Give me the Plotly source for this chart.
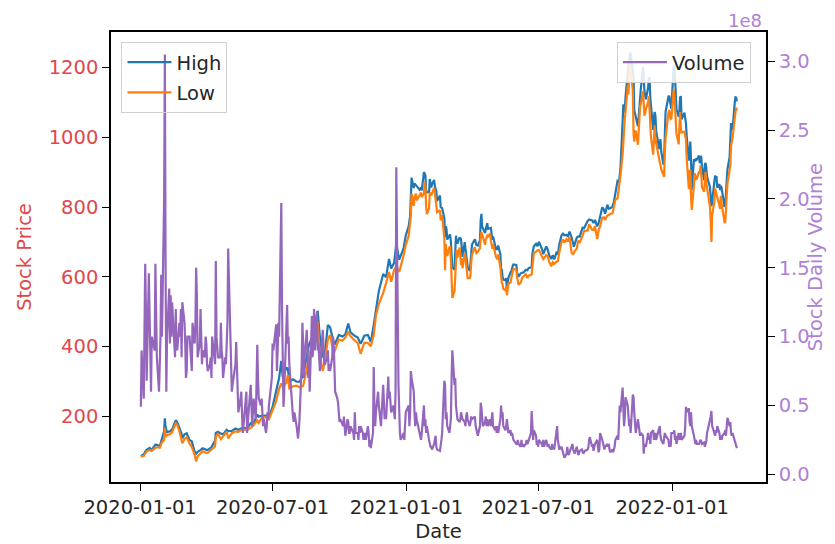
import plotly.graph_objects as go

# ---------------- data ----------------
price_dates = [
"2020-01-02","2020-01-06","2020-01-08","2020-01-10","2020-01-14","2020-01-17","2020-01-22","2020-01-24","2020-01-28","2020-01-30",
"2020-01-31","2020-02-03","2020-02-04","2020-02-05","2020-02-07","2020-02-11","2020-02-14","2020-02-19","2020-02-21","2020-02-24",
"2020-02-27","2020-02-28","2020-03-02","2020-03-05","2020-03-09","2020-03-12","2020-03-16","2020-03-18","2020-03-20","2020-03-24",
"2020-03-27","2020-04-01","2020-04-03","2020-04-08","2020-04-13","2020-04-14","2020-04-17","2020-04-21","2020-04-24","2020-04-29",
"2020-05-01","2020-05-06","2020-05-11","2020-05-15","2020-05-20","2020-05-27","2020-06-01","2020-06-05","2020-06-10","2020-06-12",
"2020-06-17","2020-06-23","2020-06-26","2020-07-01","2020-07-06","2020-07-10","2020-07-13","2020-07-15","2020-07-20","2020-07-22",
"2020-07-24","2020-07-29","2020-08-03","2020-08-07","2020-08-12","2020-08-17","2020-08-20","2020-08-24","2020-08-28","2020-08-31",
"2020-09-01","2020-09-04","2020-09-08","2020-09-11","2020-09-15","2020-09-18","2020-09-23","2020-09-25","2020-09-30","2020-10-05",
"2020-10-09","2020-10-13","2020-10-16","2020-10-21","2020-10-26","2020-10-30","2020-11-04","2020-11-09","2020-11-13","2020-11-17",
"2020-11-20","2020-11-24","2020-11-30","2020-12-04","2020-12-08","2020-12-11","2020-12-15","2020-12-18","2020-12-22","2020-12-28",
"2020-12-31",
"2021-01-04","2021-01-06","2021-01-07","2021-01-08","2021-01-11","2021-01-12","2021-01-14","2021-01-15","2021-01-19","2021-01-21",
"2021-01-22","2021-01-25","2021-01-26","2021-01-27","2021-01-28","2021-01-29","2021-02-01","2021-02-02","2021-02-04","2021-02-05",
"2021-02-08","2021-02-09","2021-02-11","2021-02-12","2021-02-16","2021-02-17","2021-02-19","2021-02-22","2021-02-23","2021-02-24",
"2021-02-25","2021-02-26","2021-03-01","2021-03-02","2021-03-03","2021-03-04","2021-03-05","2021-03-08","2021-03-09","2021-03-10",
"2021-03-11","2021-03-12","2021-03-15","2021-03-17","2021-03-18","2021-03-19","2021-03-22","2021-03-23","2021-03-24","2021-03-25",
"2021-03-26","2021-03-29","2021-03-30","2021-03-31","2021-04-01","2021-04-05","2021-04-07","2021-04-09","2021-04-12","2021-04-13",
"2021-04-14","2021-04-15","2021-04-19","2021-04-20","2021-04-22","2021-04-23","2021-04-26","2021-04-27","2021-04-29","2021-04-30",
"2021-05-04","2021-05-06","2021-05-07","2021-05-10","2021-05-11","2021-05-12","2021-05-13","2021-05-14","2021-05-17","2021-05-18",
"2021-05-19","2021-05-20","2021-05-21","2021-05-24","2021-05-25","2021-05-27","2021-05-28","2021-06-01","2021-06-02","2021-06-04",
"2021-06-07","2021-06-09","2021-06-11","2021-06-14","2021-06-16","2021-06-18","2021-06-21","2021-06-22","2021-06-23","2021-06-25",
"2021-06-28","2021-06-30","2021-07-02","2021-07-06","2021-07-08","2021-07-12","2021-07-14","2021-07-16","2021-07-19","2021-07-21",
"2021-07-23","2021-07-26","2021-07-28","2021-07-30","2021-08-02","2021-08-04","2021-08-06","2021-08-09","2021-08-11","2021-08-13",
"2021-08-16","2021-08-18","2021-08-19","2021-08-20","2021-08-23","2021-08-25","2021-08-27","2021-08-31","2021-09-02","2021-09-07",
"2021-09-09","2021-09-13","2021-09-15","2021-09-17","2021-09-20","2021-09-22","2021-09-24","2021-09-27","2021-09-29","2021-10-01",
"2021-10-04","2021-10-06","2021-10-08","2021-10-11","2021-10-13","2021-10-15","2021-10-18","2021-10-20","2021-10-21","2021-10-22",
"2021-10-25","2021-10-26","2021-10-27","2021-10-28","2021-10-29","2021-11-01","2021-11-02","2021-11-03","2021-11-04","2021-11-05",
"2021-11-08","2021-11-09","2021-11-10","2021-11-11","2021-11-12","2021-11-15","2021-11-16","2021-11-17","2021-11-18","2021-11-19",
"2021-11-22","2021-11-23","2021-11-24","2021-11-26","2021-11-29","2021-11-30","2021-12-01","2021-12-02","2021-12-03","2021-12-06",
"2021-12-07","2021-12-08","2021-12-09","2021-12-10","2021-12-13","2021-12-14","2021-12-15","2021-12-16","2021-12-17","2021-12-20",
"2021-12-21","2021-12-22","2021-12-23","2021-12-27","2021-12-28","2021-12-29","2021-12-30","2021-12-31",
"2022-01-03","2022-01-04","2022-01-05","2022-01-06","2022-01-07","2022-01-10","2022-01-11","2022-01-12","2022-01-13","2022-01-14",
"2022-01-18","2022-01-19","2022-01-20","2022-01-21","2022-01-24","2022-01-25","2022-01-26","2022-01-27","2022-01-28","2022-01-31",
"2022-02-01","2022-02-02","2022-02-03","2022-02-04","2022-02-07","2022-02-08","2022-02-09","2022-02-10","2022-02-11","2022-02-14",
"2022-02-15","2022-02-16","2022-02-17","2022-02-18","2022-02-22","2022-02-23","2022-02-24","2022-02-25","2022-02-28","2022-03-01",
"2022-03-02","2022-03-03","2022-03-04","2022-03-07","2022-03-08","2022-03-09","2022-03-10","2022-03-11","2022-03-14","2022-03-15",
"2022-03-16","2022-03-17","2022-03-18","2022-03-21","2022-03-22","2022-03-23","2022-03-24","2022-03-25","2022-03-28","2022-03-29",
"2022-03-30","2022-03-31",
]

high = [
86.1,90.3,98.6,104.0,109.0,103.6,118.5,118.0,114.0,130.5,
130.6,157.2,193.8,169.2,154.4,156.7,162.6,189.0,182.9,168.5,
150.0,137.0,148.0,151.0,131.2,128.4,98.1,92.5,98.0,102.7,
108.0,103.7,103.5,111.0,130.4,151.9,155.6,150.0,148.5,161.0,
157.5,157.7,164.8,161.0,166.0,166.0,180.0,180.0,205.0,199.0,
202.0,202.0,198.5,227.0,275.0,309.8,359.0,313.0,338.0,337.0,
300.0,306.0,299.0,299.0,317.0,372.0,405.0,425.0,463.0,500.1,
502.5,428.0,368.7,382.5,461.9,455.0,412.1,408.7,433.0,428.5,
435.0,465.9,441.0,432.0,425.8,407.6,431.0,433.0,412.5,462.0,
502.5,559.0,607.8,599.0,651.3,624.0,640.0,695.0,649.0,681.4,
718.7,
744.5,774.0,816.0,884.5,854.4,868.0,863.0,859.9,850.0,855.7,
848.0,900.4,895.9,891.5,848.0,842.4,842.0,880.5,856.5,864.8,
877.8,859.8,845.6,817.3,833.0,799.8,796.8,768.5,713.6,745.0,
737.2,706.7,719.0,721.1,700.7,668.0,627.8,620.1,678.1,717.9,
702.5,694.9,713.2,707.9,680.1,657.2,699.6,681.0,667.8,645.6,
629.1,616.5,637.7,672.0,692.4,707.9,691.4,689.6,704.8,763.0,
780.8,743.7,725.4,737.3,753.8,737.4,740.6,740.2,706.0,715.5,
679.0,680.3,690.0,665.0,622.0,620.4,601.0,592.0,589.7,596.3,
566.2,590.0,596.5,613.0,614.5,631.1,635.6,633.8,611.7,600.8,
610.0,611.8,612.6,620.0,618.8,625.6,626.4,627.3,666.0,687.5,
694.5,688.0,700.0,681.1,664.8,687.2,678.6,662.2,651.0,662.2,
649.9,669.0,664.7,692.8,718.8,723.8,719.0,719.9,716.3,729.9,
712.8,694.9,686.2,692.1,712.1,715.8,715.2,741.0,739.4,760.2,
764.5,762.0,754.4,763.2,744.9,753.7,774.8,799.4,793.5,781.1,
806.9,795.5,796.4,801.2,815.4,843.2,875.0,871.8,900.0,910.0,
1045.0,1094.9,1070.9,1081.3,1115.2,1208.6,1208.6,1215.4,1243.5,1239.9,
1197.0,1174.8,1078.1,1070.2,1054.5,1031.7,1057.2,1089.0,1112.0,1138.7,
1201.9,1141.0,1132.8,1108.8,1142.7,1168.0,1172.8,1113.0,1090.6,1021.6,
1057.7,1072.4,1063.0,1020.0,981.9,966.4,978.8,994.7,960.7,921.7,
939.5,1015.7,1072.9,1117.0,1119.0,1104.0,1095.6,1082.0,
1201.1,1208.0,1170.3,1088.0,1080.9,1059.1,1075.9,1114.8,1115.6,1052.0,
1070.8,1054.7,1041.7,1004.6,933.5,951.3,987.7,935.4,850.0,937.2,
935.4,931.5,937.0,936.5,947.8,926.3,946.3,943.8,915.9,876.9,
923.0,926.4,912.0,886.9,856.7,835.3,802.5,815.5,876.9,889.9,
886.5,886.4,855.6,866.0,849.0,860.6,854.5,843.8,800.7,805.6,
842.0,875.0,907.8,942.9,997.9,1040.7,1024.5,1021.8,1097.9,1114.8,
1113.9,1103.1,
]

low = [
84.3,85.8,93.0,98.9,103.4,100.5,109.5,111.0,109.5,118.0,
125.0,131.7,166.8,140.8,146.0,148.0,154.6,180.0,175.5,157.0,
131.7,122.3,135.0,140.0,121.2,111.8,88.4,70.1,85.0,94.1,
99.5,94.7,95.5,104.0,114.0,141.0,149.0,134.7,142.5,155.6,
136.7,151.4,156.8,155.3,162.0,161.0,167.0,174.0,188.0,181.0,
197.5,197.0,191.0,216.0,244.0,279.0,294.2,285.0,296.0,318.0,
280.0,286.0,288.0,283.0,287.0,335.0,372.0,401.0,437.0,440.1,
470.5,372.0,329.9,360.5,420.0,433.0,380.0,391.3,420.0,416.6,
426.0,443.5,430.0,419.0,410.0,379.1,411.0,410.0,401.0,433.0,
489.0,522.0,554.0,582.0,614.0,586.0,620.0,628.5,614.0,660.8,
691.1,
717.2,749.0,775.2,838.8,803.6,827.3,838.8,819.1,833.0,841.4,
828.6,838.8,871.6,858.7,801.0,780.1,795.6,842.2,833.4,838.8,
854.8,841.8,804.7,785.3,791.0,762.0,777.4,710.2,619.0,694.2,
670.6,659.5,685.2,685.0,651.1,600.0,539.5,558.8,595.2,655.1,
677.2,655.5,684.0,633.8,653.0,624.6,668.8,656.0,630.1,609.5,
596.0,596.0,605.0,641.1,664.0,684.7,667.8,671.7,682.1,710.6,
728.0,721.3,691.8,707.1,718.0,715.5,724.6,703.6,680.5,694.2,
657.0,650.0,664.1,627.6,587.5,582.0,579.0,565.5,561.2,573.0,
547.0,562.3,580.0,583.8,600.0,616.0,622.5,620.6,599.2,577.2,
582.9,597.6,601.5,607.0,596.8,603.8,605.2,607.0,628.1,668.0,
672.0,675.9,676.8,656.0,650.7,662.2,659.0,643.4,630.2,642.0,
637.5,643.2,645.0,670.3,699.0,707.4,697.9,707.6,701.9,714.3,
668.2,665.3,667.6,673.7,680.8,703.6,697.6,718.0,730.6,733.0,
751.1,734.9,734.0,745.3,708.9,734.2,744.6,769.3,770.7,763.6,
776.1,776.9,780.8,781.5,805.1,820.7,825.1,851.3,869.9,890.3,
950.5,1001.4,1030.8,1054.2,1073.2,1146.0,1123.0,1174.5,1217.0,1201.0,
1133.0,1011.5,987.3,1016.8,1019.2,978.6,1002.2,1050.0,1089.0,1096.1,
1132.4,1062.0,1062.0,1081.0,1100.2,1118.0,1087.0,1056.6,1000.2,950.5,
1026.8,1033.6,1001.2,982.5,951.5,930.0,928.3,921.9,909.0,893.4,
886.1,957.1,997.6,1070.7,1078.4,1064.1,1053.2,1054.6,
1136.0,1123.0,1081.0,1020.5,1010.0,980.0,1038.8,1072.6,1026.5,1013.4,
1016.1,995.0,994.0,940.5,851.5,903.2,906.0,829.0,792.0,862.8,
897.5,889.4,880.5,881.2,902.7,894.8,920.0,896.7,856.7,844.3,
893.4,901.2,868.8,853.2,801.0,760.6,700.0,776.5,814.7,853.8,
844.3,832.6,825.2,804.0,795.0,832.0,810.4,793.8,756.0,756.6,
802.3,825.7,867.4,907.1,921.8,976.4,988.8,997.3,1053.6,1073.1,
1086.0,1076.6,
]

vol_dates = [
"2020-01-02","2020-01-03","2020-01-06","2020-01-07","2020-01-08","2020-01-09","2020-01-10","2020-01-13","2020-01-14","2020-01-16",
"2020-01-17","2020-01-21","2020-01-22","2020-01-24","2020-01-27","2020-01-29","2020-01-30","2020-01-31","2020-02-03","2020-02-04",
"2020-02-05","2020-02-06","2020-02-07","2020-02-10","2020-02-11","2020-02-12","2020-02-13","2020-02-14","2020-02-18","2020-02-19",
"2020-02-20","2020-02-21","2020-02-24","2020-02-25","2020-02-26","2020-02-27","2020-02-28","2020-03-02","2020-03-03","2020-03-04",
"2020-03-05","2020-03-06","2020-03-09","2020-03-10","2020-03-11","2020-03-12","2020-03-13","2020-03-16","2020-03-17","2020-03-18",
"2020-03-19","2020-03-20","2020-03-23","2020-03-24","2020-03-25","2020-03-26","2020-03-27","2020-03-30","2020-03-31","2020-04-01",
"2020-04-02","2020-04-03","2020-04-06","2020-04-07","2020-04-08","2020-04-09","2020-04-13","2020-04-14","2020-04-15","2020-04-16",
"2020-04-17","2020-04-20","2020-04-21","2020-04-22","2020-04-23","2020-04-24","2020-04-27","2020-04-28","2020-04-29","2020-04-30",
"2020-05-01","2020-05-04","2020-05-05","2020-05-06","2020-05-07","2020-05-08","2020-05-11","2020-05-12","2020-05-13","2020-05-14",
"2020-05-15","2020-05-18","2020-05-19","2020-05-20","2020-05-21","2020-05-22","2020-05-26","2020-05-27","2020-05-28","2020-05-29",
"2020-06-01","2020-06-02","2020-06-03","2020-06-04","2020-06-05","2020-06-08","2020-06-09","2020-06-10","2020-06-11","2020-06-12",
"2020-06-15","2020-06-16","2020-06-17","2020-06-18","2020-06-19","2020-06-22","2020-06-23","2020-06-24","2020-06-25","2020-06-26",
"2020-06-29","2020-06-30","2020-07-01","2020-07-02","2020-07-06","2020-07-07","2020-07-08","2020-07-09","2020-07-10","2020-07-13",
"2020-07-14","2020-07-15","2020-07-16","2020-07-17","2020-07-20","2020-07-21","2020-07-22","2020-07-23","2020-07-24","2020-07-27",
"2020-07-28","2020-07-29","2020-07-30","2020-07-31","2020-08-03","2020-08-04","2020-08-05","2020-08-06","2020-08-07","2020-08-10",
"2020-08-11","2020-08-12","2020-08-13","2020-08-14","2020-08-17","2020-08-18","2020-08-19","2020-08-20","2020-08-21","2020-08-24",
"2020-08-25","2020-08-26","2020-08-27","2020-08-28","2020-08-31","2020-09-01","2020-09-02","2020-09-03","2020-09-04","2020-09-08",
"2020-09-09","2020-09-10","2020-09-11","2020-09-14","2020-09-15","2020-09-16","2020-09-17","2020-09-18","2020-09-21","2020-09-22",
"2020-09-23","2020-09-24","2020-09-25","2020-09-28","2020-09-29","2020-09-30","2020-10-01","2020-10-02","2020-10-05","2020-10-06",
"2020-10-07","2020-10-08","2020-10-09","2020-10-12","2020-10-13","2020-10-14","2020-10-15","2020-10-16","2020-10-19","2020-10-20",
"2020-10-21","2020-10-22","2020-10-23","2020-10-26","2020-10-27","2020-10-28","2020-10-29","2020-10-30","2020-11-02","2020-11-03",
"2020-11-04","2020-11-05","2020-11-06","2020-11-09","2020-11-10","2020-11-11","2020-11-12","2020-11-13","2020-11-16","2020-11-17",
"2020-11-18","2020-11-19","2020-11-20","2020-11-23","2020-11-24","2020-11-25","2020-11-27","2020-11-30","2020-12-01","2020-12-02",
"2020-12-03","2020-12-04","2020-12-07","2020-12-08","2020-12-09","2020-12-10","2020-12-11","2020-12-14","2020-12-15","2020-12-16",
"2020-12-17","2020-12-18","2020-12-21","2020-12-22","2020-12-23","2020-12-24","2020-12-28","2020-12-29","2020-12-30","2020-12-31",
"2021-01-04","2021-01-05","2021-01-06","2021-01-07","2021-01-08","2021-01-11","2021-01-12","2021-01-13","2021-01-14","2021-01-15",
"2021-01-19","2021-01-20","2021-01-21","2021-01-22","2021-01-25","2021-01-26","2021-01-27","2021-01-28","2021-01-29","2021-02-01",
"2021-02-02","2021-02-03","2021-02-04","2021-02-05","2021-02-08","2021-02-09","2021-02-10","2021-02-11","2021-02-12","2021-02-16",
"2021-02-17","2021-02-18","2021-02-19","2021-02-22","2021-02-23","2021-02-24","2021-02-25","2021-02-26","2021-03-01","2021-03-02",
"2021-03-03","2021-03-04","2021-03-05","2021-03-08","2021-03-09","2021-03-10","2021-03-11","2021-03-12","2021-03-15","2021-03-16",
"2021-03-17","2021-03-18","2021-03-19","2021-03-22","2021-03-23","2021-03-24","2021-03-25","2021-03-26","2021-03-29","2021-03-30",
"2021-03-31","2021-04-01","2021-04-05","2021-04-06","2021-04-07","2021-04-08","2021-04-09","2021-04-12","2021-04-13","2021-04-14",
"2021-04-15","2021-04-16","2021-04-19","2021-04-20","2021-04-21","2021-04-22","2021-04-23","2021-04-26","2021-04-27","2021-04-28",
"2021-04-29","2021-04-30","2021-05-03","2021-05-04","2021-05-05","2021-05-06","2021-05-07","2021-05-10","2021-05-11","2021-05-12",
"2021-05-13","2021-05-14","2021-05-17","2021-05-18","2021-05-19","2021-05-20","2021-05-21","2021-05-24","2021-05-25","2021-05-26",
"2021-05-27","2021-05-28","2021-06-01","2021-06-02","2021-06-03","2021-06-04","2021-06-07","2021-06-08","2021-06-09","2021-06-10",
"2021-06-11","2021-06-14","2021-06-15","2021-06-16","2021-06-17","2021-06-18","2021-06-21","2021-06-22","2021-06-23","2021-06-24",
"2021-06-25","2021-06-28","2021-06-29","2021-06-30","2021-07-01","2021-07-02","2021-07-06","2021-07-07","2021-07-08","2021-07-09",
"2021-07-12","2021-07-13","2021-07-14","2021-07-15","2021-07-16","2021-07-19","2021-07-20","2021-07-21","2021-07-22","2021-07-23",
"2021-07-26","2021-07-27","2021-07-28","2021-07-29","2021-07-30","2021-08-02","2021-08-03","2021-08-04","2021-08-05","2021-08-06",
"2021-08-09","2021-08-10","2021-08-11","2021-08-12","2021-08-13","2021-08-16","2021-08-17","2021-08-18","2021-08-19","2021-08-20",
"2021-08-23","2021-08-24","2021-08-25","2021-08-26","2021-08-27","2021-08-30","2021-08-31","2021-09-01","2021-09-02","2021-09-03",
"2021-09-07","2021-09-08","2021-09-09","2021-09-10","2021-09-13","2021-09-14","2021-09-15","2021-09-16","2021-09-17","2021-09-20",
"2021-09-21","2021-09-22","2021-09-23","2021-09-24","2021-09-27","2021-09-28","2021-09-29","2021-09-30","2021-10-01","2021-10-04",
"2021-10-05","2021-10-06","2021-10-07","2021-10-08","2021-10-11","2021-10-12","2021-10-13","2021-10-14","2021-10-15","2021-10-18",
"2021-10-19","2021-10-20","2021-10-21","2021-10-22","2021-10-25","2021-10-26","2021-10-27","2021-10-28","2021-10-29","2021-11-01",
"2021-11-02","2021-11-03","2021-11-04","2021-11-05","2021-11-08","2021-11-09","2021-11-10","2021-11-11","2021-11-12","2021-11-15",
"2021-11-16","2021-11-17","2021-11-18","2021-11-19","2021-11-22","2021-11-23","2021-11-24","2021-11-26","2021-11-29","2021-11-30",
"2021-12-01","2021-12-02","2021-12-03","2021-12-06","2021-12-07","2021-12-08","2021-12-09","2021-12-10","2021-12-13","2021-12-14",
"2021-12-15","2021-12-16","2021-12-17","2021-12-20","2021-12-21","2021-12-22","2021-12-23","2021-12-27","2021-12-28","2021-12-29",
"2021-12-30","2021-12-31",
"2022-01-03","2022-01-04","2022-01-05","2022-01-06","2022-01-07","2022-01-10","2022-01-11","2022-01-12","2022-01-13","2022-01-14",
"2022-01-18","2022-01-19","2022-01-20","2022-01-21","2022-01-24","2022-01-25","2022-01-26","2022-01-27","2022-01-28","2022-01-31",
"2022-02-01","2022-02-02","2022-02-03","2022-02-04","2022-02-07","2022-02-08","2022-02-09","2022-02-10","2022-02-11","2022-02-14",
"2022-02-15","2022-02-16","2022-02-17","2022-02-18","2022-02-22","2022-02-23","2022-02-24","2022-02-25","2022-02-28","2022-03-01",
"2022-03-02","2022-03-03","2022-03-04","2022-03-07","2022-03-08","2022-03-09","2022-03-10","2022-03-11","2022-03-14","2022-03-15",
"2022-03-16","2022-03-17","2022-03-18","2022-03-21","2022-03-22","2022-03-23","2022-03-24","2022-03-25","2022-03-28","2022-03-29",
"2022-03-30","2022-03-31",
]

# daily volume, millions of shares
volume_m = [
49,90,55,88,153,120,68,146,110,60,
100,90,153,85,60,100,145,100,200,305,
150,60,100,135,95,130,100,125,85,120,
95,90,110,100,120,85,125,110,95,70,
75,100,100,90,85,75,110,95,110,150,
130,85,95,120,100,80,90,85,100,95,
80,75,80,85,70,100,80,155,100,85,
85,85,110,90,85,70,85,80,100,110,
164,95,75,60,65,70,80,96,80,55,
45,55,60,45,30,35,60,30,40,45,
65,50,35,45,55,40,60,94,70,55,
50,55,45,35,40,30,35,45,40,50,
65,70,95,90,109,75,90,110,100,197,
120,80,49,60,100,123,95,100,80,55,
45,42,38,45,35,30,26,32,40,80,
110,95,70,85,105,90,70,85,60,115,
85,95,120,90,118,90,95,85,75,105,
90,80,80,85,90,75,80,75,85,100,
95,75,60,55,52,45,38,40,35,35,
42,30,28,40,38,30,30,35,30,30,
25,45,30,30,25,35,30,35,30,25,
28,30,25,35,30,20,25,19,30,78,
45,35,45,60,50,45,35,65,50,40,
45,40,71,55,60,55,45,50,40,40,
60,223,65,40,30,25,30,25,35,45,
50,35,45,75,70,60,45,35,45,40,
30,28,25,30,50,35,40,30,35,25,
22,20,20,18,22,25,28,20,18,17,
20,25,30,68,65,40,45,35,30,35,
40,70,90,65,70,50,40,40,38,40,
45,40,40,38,35,42,45,40,35,38,
42,40,42,35,32,30,28,35,52,48,
40,35,38,42,35,40,35,40,35,45,
45,35,32,35,30,35,30,40,50,42,
45,35,32,35,40,35,30,32,28,30,
25,25,22,22,25,22,20,25,20,22,
20,22,25,22,23,25,30,46,30,25,
32,28,22,22,20,25,22,20,25,20,
25,22,20,22,20,18,22,18,20,18,
30,35,25,20,18,20,18,15,14,12,
15,20,15,14,16,20,22,18,17,15,
20,16,14,15,17,18,16,15,16,17,
18,20,25,27,20,22,17,20,22,25,
18,16,18,30,25,22,20,18,20,22,
20,22,18,16,18,16,18,20,25,28,
25,35,50,45,63,48,35,42,56,50,
45,35,40,30,58,56,45,35,30,40,
35,32,28,30,28,15,22,20,30,25,
28,22,30,32,25,28,30,25,30,32,
35,28,25,22,25,30,28,25,20,22,
20,30,
30,32,25,28,22,30,25,28,30,25,
28,35,49,45,48,38,35,45,35,28,
25,22,25,22,22,24,25,24,22,23,
20,22,24,30,38,42,46,35,30,28,
32,30,35,30,25,28,25,28,30,32,
28,35,41,35,38,30,28,30,25,22,
20,19,
]
volume = [v * 1e6 for v in volume_m]

x_ticks = ["2020-01-01", "2020-07-01", "2021-01-01", "2021-07-01", "2022-01-01"]
price_ticks = [200, 400, 600, 800, 1000, 1200]
vol_ticks = [0.0, 0.5, 1.0, 1.5, 2.0, 2.5, 3.0]   # in units of 1e8

# ---------------- styling ----------------
FONT = "DejaVu Sans"
FS = 19.5
RED = "#e0474c"
PURPLE = "#b07fd6"
TXT = "#262626"

fig = go.Figure()
fig.add_trace(go.Scatter(x=price_dates, y=high, mode="lines", name="High",
                         line=dict(color="#1f77b4", width=2.2), legend="legend", legendgroup="h"))
fig.add_trace(go.Scatter(x=price_dates, y=low, mode="lines", name="Low",
                         line=dict(color="#ff7f0e", width=2.2), legend="legend", legendgroup="l"))
fig.add_trace(go.Scatter(x=vol_dates, y=volume, mode="lines", name="Volume",
                         line=dict(color="#9467bd", width=2.2), yaxis="y2", legend="legend2"))

# page body has an 8px margin, so the figure starts 8px in from the window's corner
fig.update_layout(
    width=819, height=536,
    margin=dict(l=103, r=61, t=24, b=62, autoexpand=False),
    paper_bgcolor="white", plot_bgcolor="white",
    font=dict(family=FONT, size=FS, color=TXT),
    xaxis=dict(
        range=["2019-11-22", "2022-05-10"],
        tickvals=x_ticks, ticktext=x_ticks,
        ticks="outside", ticklen=7, tickcolor="black", tickwidth=1.2,
        showline=True, linecolor="black", linewidth=1.5, mirror=True,
        showgrid=False, zeroline=False, automargin=False,
        title=dict(text="Date", font=dict(size=FS, color=TXT), standoff=6),
        tickfont=dict(size=FS, color=TXT),
    ),
    yaxis=dict(
        range=[11.4, 1302.2],
        tickvals=price_ticks,
        ticks="outside", ticklen=7, tickcolor="black", tickwidth=1.2,
        showline=True, linecolor="black", linewidth=1.5,
        showgrid=False, zeroline=False, automargin=False,
        tickfont=dict(size=FS, color=RED),
        title=dict(text="Stock Price", font=dict(size=FS, color=RED), standoff=12),
    ),
    yaxis2=dict(
        overlaying="y", side="right",
        range=[-5.6e6, 321.3e6],
        tickvals=[v * 1e8 for v in vol_ticks],
        ticktext=[f"{v:.1f}" for v in vol_ticks],
        ticks="outside", ticklen=7, tickcolor="black", tickwidth=1.2,
        showline=True, linecolor="black", linewidth=1.5,
        showgrid=False, zeroline=False, automargin=False,
        tickfont=dict(size=FS, color=PURPLE),
        title=dict(text="Stock Daily Volume", font=dict(size=FS, color=PURPLE), standoff=10),
    ),
    legend=dict(
        x=0.016, y=0.978, xanchor="left", yanchor="top",
        bgcolor="rgba(255,255,255,0)", bordercolor="#d0d0d0", borderwidth=1,
        font=dict(size=FS, color=TXT), itemwidth=44, tracegroupgap=2,
    ),
    legend2=dict(
        x=0.977, y=0.978, xanchor="right", yanchor="top",
        bgcolor="rgba(255,255,255,0.85)", bordercolor="#d0d0d0", borderwidth=1,
        font=dict(size=FS, color=TXT), itemwidth=44,
    ),
    annotations=[dict(
        text="1e8", xref="paper", yref="paper", x=1.0, y=1.0,
        xanchor="right", yanchor="middle", xshift=-3, yshift=12, showarrow=False,
        borderpad=0, font=dict(size=18, color=PURPLE, family=FONT),
    )],
)

fig.write_html("out.html")
